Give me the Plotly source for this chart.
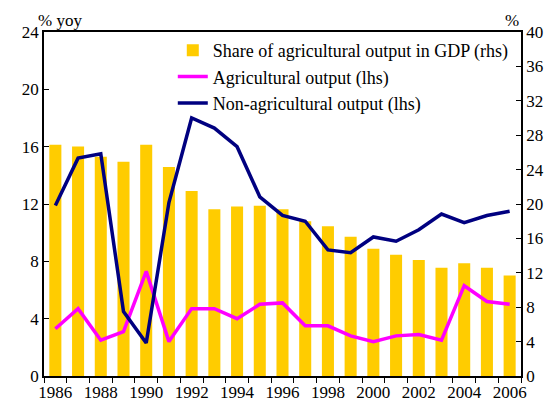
import plotly.graph_objects as go

years = list(range(1986, 2007))
share_agri_gdp = [26.9, 26.7, 25.5, 24.9, 26.9, 24.3, 21.5, 19.4, 19.7, 19.8, 19.4,
                  18.0, 17.4, 16.2, 14.8, 14.1, 13.5, 12.6, 13.1, 12.6, 11.7]
agri_output = [3.3, 4.7, 2.5, 3.1, 7.3, 2.4, 4.7, 4.7, 4.0, 5.0, 5.1,
               3.5, 3.5, 2.8, 2.4, 2.8, 2.9, 2.5, 6.3, 5.2, 5.0]
non_agri_output = [11.9, 15.2, 15.5, 4.5, 2.3, 12.1, 18.0, 17.3, 16.0, 12.5, 11.2,
                   10.8, 8.8, 8.6, 9.7, 9.4, 10.2, 11.3, 10.7, 11.2, 11.5]
xtick_years = list(range(1986, 2007, 2))
left_ticks = list(range(0, 25, 4))
right_ticks = list(range(0, 41, 4))

FONT = "Liberation Serif, Times New Roman, serif"
tf = dict(family=FONT, size=17, color="black")
lf = dict(family=FONT, size=18, color="black")

fig = go.Figure()
fig.add_trace(go.Bar(x=years, y=share_agri_gdp, name="Share of agricultural output in GDP (rhs)",
                     marker=dict(color="#FFCC00", line=dict(width=0)), yaxis="y", width=0.53,
                     legendgroup="a"))
fig.add_trace(go.Scatter(x=years, y=agri_output, name="Agricultural output (lhs)", mode="lines",
                         line=dict(color="#FF00FF", width=3.5), yaxis="y2", legendgroup="b"))
fig.add_trace(go.Scatter(x=years, y=non_agri_output, name="Non-agricultural output (lhs)", mode="lines",
                         line=dict(color="#000080", width=3.5), yaxis="y2", legendgroup="c"))

fig.update_layout(
    width=546, height=395,
    margin=dict(l=36, r=33, t=24, b=27, autoexpand=False),
    paper_bgcolor="white", plot_bgcolor="white",
    font=tf,
    showlegend=True,
    legend=dict(x=0.27, y=1.0, xanchor="left", yanchor="top", bgcolor="rgba(0,0,0,0)",
                font=lf, tracegroupgap=0),
    xaxis=dict(range=[1985.5, 2006.5], tickmode="array", tickvals=xtick_years, automargin=False,
               ticktext=[str(y) for y in xtick_years], ticks="", showgrid=False, zeroline=False,
               tickfont=tf,
               showline=True, linecolor="black", linewidth=1.5, mirror=True,
               minor=dict(tickmode="array", tickvals=[y - 0.5 for y in years] + [2006.5],
                          ticks="outside", ticklen=5, tickcolor="black", tickwidth=1, showgrid=False)),
    yaxis=dict(range=[0, 40], side="right", tickmode="array", tickvals=right_ticks, automargin=False,
               ticks="inside", ticklen=5, tickcolor="black", showgrid=False, zeroline=False,
               tickfont=tf, showline=True, linecolor="black", linewidth=1.5),
    yaxis2=dict(range=[0, 24], side="left", overlaying="y", tickmode="array", tickvals=left_ticks,
                automargin=False, tickfont=tf,
                ticks="inside", ticklen=5, tickcolor="black", showgrid=False, zeroline=False,
                showline=True, linecolor="black", linewidth=1.5),
    annotations=[
        dict(text="% yoy", xref="paper", yref="paper", x=-0.017, y=1.0, xanchor="left", yanchor="bottom",
             showarrow=False, font=tf, yshift=0),
        dict(text="%", xref="paper", yref="paper", x=1.0, y=1.0, xanchor="right", yanchor="bottom",
             showarrow=False, font=tf, yshift=0),
    ],
)

fig.write_html("out.html")
